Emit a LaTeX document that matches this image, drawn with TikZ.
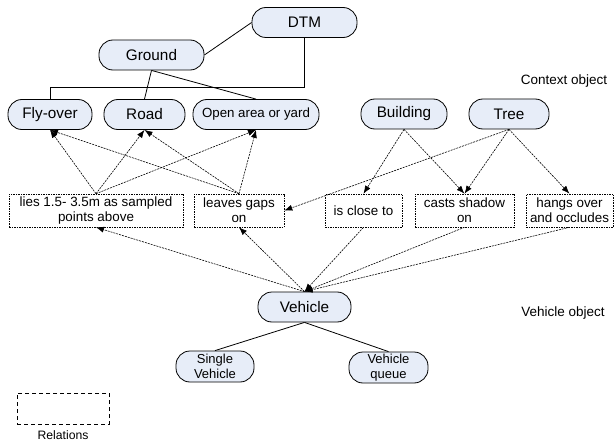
\documentclass[tikz,border=0pt]{standalone}
\usepackage{fontspec}
\setmainfont{Liberation Sans}
\usetikzlibrary{arrows.meta}
\usetikzlibrary{positioning}
\usetikzlibrary{calc}
\definecolor{pillblue}{RGB}{231,237,248}
\tikzset{basic pill/.style={draw,
                            rounded corners=14pt,
                            fill=pillblue,
                            inner sep=0pt,
                            line width=0.8pt}}
\tikzset{pill/.style={basic pill,minimum height=30pt,font=\fontsize{15.3}{17}\selectfont}}
\tikzset{link/.style={draw,line width=0.8pt}}
\tikzset{rel arrow/.style={draw,
                           line width=0.6pt,
                           dash pattern=on 2pt off 1pt,
                           -{Latex[length=8pt,width=6pt]}}}

\begin{document}
\begin{tikzpicture}
      [
      x=1pt,y=-1pt,
      small pill/.style={basic pill,
      align=center,
      minimum height=31pt,
      font=\fontsize{13}{15}\selectfont},
      relation/.style={draw,
      line width=0.6pt,
      dash pattern=on 1.5pt off 1pt,
      align=center,
      minimum height=33pt,
      inner sep=0pt,
      font=\fontsize{13.4}{15}\selectfont},
      ]
      \useasboundingbox (0,0) rectangle (614,444);

      % objects
      \foreach \n/\x/\y/\w/\t in
      {
      DTM/304.5/22.5/105/DTM,
      Ground/151.5/55/105/Ground,
      Flyover/50/114.5/84/Fly-over,
      Road/144.5/114.5/81/Road,
      Building/404/114/86/Building,
      Tree/509/114/80/Tree,
      Vehicle/304.5/307/93/Vehicle
      }
      {
      \node [pill,minimum width=\w pt] (\n) at (\x,\y) {\t};
      }
      \node [pill,minimum width=126pt,font=\fontsize{13.3}{15}\selectfont] (Open) at (256,114.5) {Open area or yard};
      \node [small pill,minimum width=78pt] (Single) at (215,366.5) {Single\\Vehicle};
      \node [small pill,minimum width=79pt] (Queue) at (388.5,367.5) {Vehicle\\queue};

      % relations
      \node [relation,minimum width=174pt] (lies) at (96,210.5) {lies 1.5- 3.5m as sampled\\points above};
      \node [relation,minimum width=90pt] (gaps) at (239,210.5) {leaves gaps\\on};
      \node [relation,minimum width=77pt] (close) at (363.5,210.5) {is close to};
      \node [relation,minimum width=99pt] (shadow) at (464.5,210.5) {casts shadow\\on};
      \node [relation,minimum width=87pt] (hangs) at (569.5,210.5) {hangs over\\and occludes};

      % labels
      \node [font=\fontsize{13.5}{15}\selectfont] (ctxlabel) at (564,81) {Context object};
      \node [font=\fontsize{13.5}{15}\selectfont] (vehlabel) at (563,313) {Vehicle object};
      \node [draw,line width=0.7pt,dash pattern=on 4pt off 3pt,minimum width=92pt,minimum height=31pt] (legend) at (63,408.5) {};
      \node [font=\fontsize{12.2}{14}\selectfont,below=2.5pt of legend] (legendlabel) {Relations};

      % edges
      \path [link] (DTM.west) -- (Ground.east);
      \path [link] (DTM.south) |- ([yshift=12pt]Flyover.north) -- (Flyover.north);
      \path [link] (Ground.south) -- (Road.north);
      \path [link] (Ground.south) -- (Open.north);
      \path [link] (Vehicle.south) -- (Single.north);
      \path [link] (Vehicle.south) -- (Queue.north);

      % relation arrows
      \foreach \s in {lies,gaps}
        \foreach \t in {Flyover,Road,Open}
          \path [rel arrow] (\s.north) -- (\t.south);

      \path [rel arrow] (Tree.south) -- (gaps.east);
      \foreach \t in {close,shadow}
        \path [rel arrow] (Building.south) -- (\t.north);
      \foreach \t in {shadow,hangs}
        \path [rel arrow] (Tree.south) -- (\t.north);

      \foreach \t in {lies,gaps}
        \path [rel arrow] (Vehicle.north) -- (\t.south);
      \foreach \s in {close,shadow,hangs}
        \path [rel arrow] (\s.south) -- (Vehicle.north);

    \end{tikzpicture}
\end{document}
